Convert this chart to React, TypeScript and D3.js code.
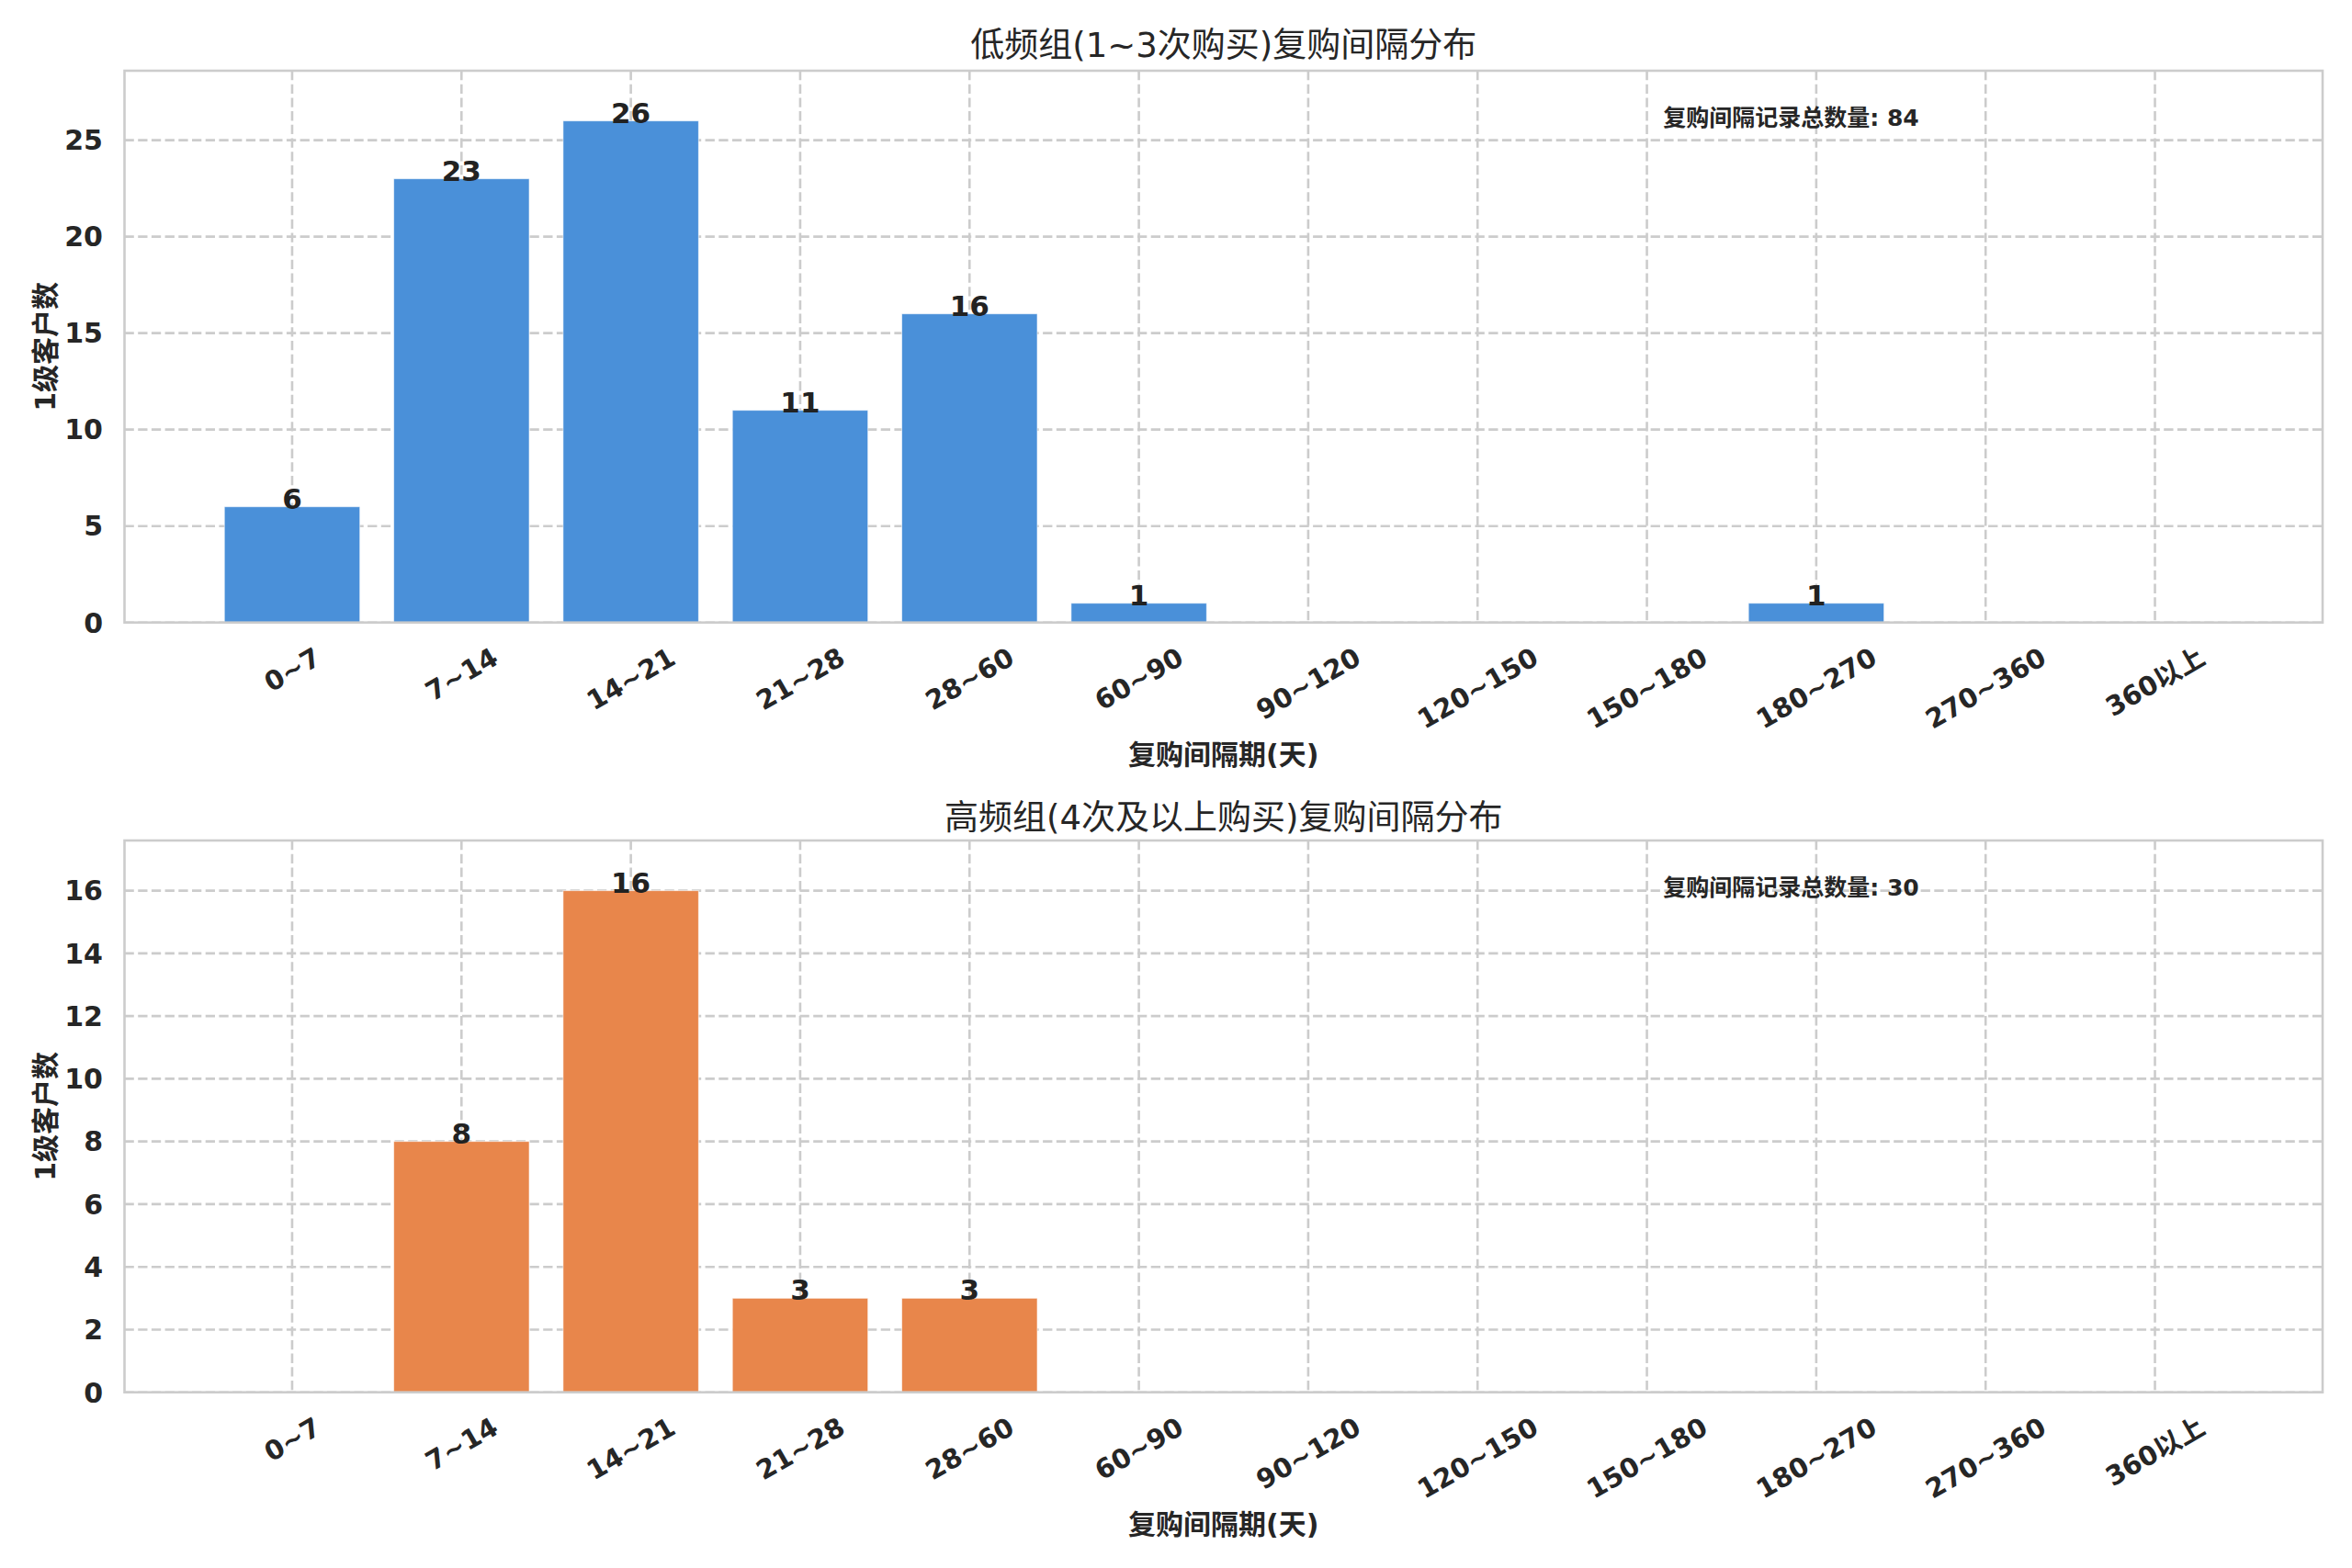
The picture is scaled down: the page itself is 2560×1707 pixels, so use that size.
import { useEffect, useRef } from 'react';
import * as d3 from 'd3';

const categories = ['0~7', '7~14', '14~21', '21~28', '28~60', '60~90', '90~120', '120~150', '150~180', '180~270', '270~360', '360以上'];
const lowFreqCounts = [6, 23, 26, 11, 16, 1, 0, 0, 0, 1, 0, 0];
const highFreqCounts = [0, 8, 16, 3, 3, 0, 0, 0, 0, 0, 0, 0];
const lowTicks = [0, 5, 10, 15, 20, 25];
const highTicks = [0, 2, 4, 6, 8, 10, 12, 14, 16];

const panels = [
  { title: '低频组(1~3次购买)复购间隔分布', values: lowFreqCounts, ticks: lowTicks, color: '#4a90d9', offset: 0 },
  { title: '高频组(4次及以上购买)复购间隔分布', values: highFreqCounts, ticks: highTicks, color: '#e8864b', offset: 838 },
];

const FONT = "'DejaVu Sans', 'Noto Sans CJK SC', sans-serif";
const TEXT = '#262626';
const GRID = '#cccccc';

export default function App() {
  const svgRef = useRef<SVGSVGElement>(null);

  useEffect(() => {
    document.body.style.margin = '0';
    if (!svgRef.current) return;

    const width = 2560;
    const height = 1707;
    const svg = d3.select(svgRef.current).attr('width', width).attr('height', height);
    svg.selectAll('*').remove();
    svg.append('rect').attr('width', width).attr('height', height).attr('fill', '#fff');

    const left = 135.5;
    const right = 2528;
    const top = 77;
    const bottom = 677.7;

    panels.forEach((p) => {
      const g = svg.append('g').attr('transform', `translate(0, ${p.offset})`);

      const x = d3.scaleBand().domain(categories).range([left, right]).paddingInner(0.2).paddingOuter(0.59);
      const maxV = d3.max(p.values) ?? 1;
      const y = d3.scaleLinear().domain([0, maxV * 1.1]).range([bottom, top]);

      // Grid
      g.selectAll('.ygrid')
        .data(p.ticks)
        .enter()
        .append('line')
        .attr('x1', left)
        .attr('x2', right)
        .attr('y1', (d) => y(d))
        .attr('y2', (d) => y(d))
        .attr('stroke', GRID)
        .attr('stroke-width', 2.6)
        .attr('stroke-dasharray', '10.3,4.4');

      g.selectAll('.xgrid')
        .data(categories)
        .enter()
        .append('line')
        .attr('x1', (d) => x(d)! + x.bandwidth() / 2)
        .attr('x2', (d) => x(d)! + x.bandwidth() / 2)
        .attr('y1', top)
        .attr('y2', bottom)
        .attr('stroke', GRID)
        .attr('stroke-width', 2.6)
        .attr('stroke-dasharray', '10.3,4.4');

      // Bars
      const rows = categories.map((c, i) => ({ cat: c, value: p.values[i] }));
      g.selectAll('.bar')
        .data(rows.filter((d) => d.value > 0))
        .enter()
        .append('rect')
        .attr('x', (d) => x(d.cat)!)
        .attr('y', (d) => y(d.value))
        .attr('width', x.bandwidth())
        .attr('height', (d) => y(0) - y(d.value))
        .attr('fill', p.color)
        .attr('stroke', '#ffffff')
        .attr('stroke-opacity', 0.6)
        .attr('stroke-width', 1);

      // Value labels
      g.selectAll('.value-label')
        .data(rows.filter((d) => d.value > 0))
        .enter()
        .append('text')
        .attr('x', (d) => x(d.cat)! + x.bandwidth() / 2)
        .attr('y', (d) => y(d.value) + 2)
        .attr('text-anchor', 'middle')
        .attr('font-family', FONT)
        .attr('font-size', 31)
        .attr('font-weight', 'bold')
        .attr('fill', '#222')
        .text((d) => d.value);

      // Spines
      g.append('rect')
        .attr('x', left)
        .attr('y', top)
        .attr('width', right - left)
        .attr('height', bottom - top)
        .attr('fill', 'none')
        .attr('stroke', GRID)
        .attr('stroke-width', 2.6);

      // Y tick labels
      g.selectAll('.ytick')
        .data(p.ticks)
        .enter()
        .append('text')
        .attr('x', 112)
        .attr('y', (d) => y(d))
        .attr('dy', '0.36em')
        .attr('text-anchor', 'end')
        .attr('font-family', FONT)
        .attr('font-size', 30)
        .attr('font-weight', 'bold')
        .attr('fill', TEXT)
        .text((d) => d);

      // X tick labels, rotated 30deg, centred under the tick
      const labelTop = 703;
      g.selectAll('.xtick')
        .data(categories)
        .enter()
        .append('text')
        .attr('text-anchor', 'middle')
        .attr('dy', '0.36em')
        .attr('font-family', FONT)
        .attr('font-size', 29)
        .attr('font-weight', 'bold')
        .attr('fill', TEXT)
        .text((d) => d)
        .each(function (d) {
          const el = this as SVGTextElement;
          const w = el.getComputedTextLength();
          const h = 22;
          const cx = x(d)! + x.bandwidth() / 2;
          const cy = labelTop + (w * 0.5 + h * 0.866) / 2;
          d3.select(el).attr('x', cx).attr('y', cy).attr('transform', `rotate(-30, ${cx}, ${cy})`);
        });

      // Axis labels
      g.append('text')
        .attr('x', (left + right) / 2)
        .attr('y', 832)
        .attr('text-anchor', 'middle')
        .attr('font-family', FONT)
        .attr('font-size', 30)
        .attr('font-weight', 'bold')
        .attr('fill', TEXT)
        .text('复购间隔期(天)');

      const yMid = (top + bottom) / 2;
      g.append('text')
        .attr('transform', `translate(49, ${yMid}) rotate(-90)`)
        .attr('dy', '0.36em')
        .attr('text-anchor', 'middle')
        .attr('font-family', FONT)
        .attr('font-size', 30)
        .attr('font-weight', 'bold')
        .attr('fill', TEXT)
        .text('1级客户数');

      // Title
      g.append('text')
        .attr('x', (left + right) / 2)
        .attr('y', p.offset === 0 ? 62 : 903 - p.offset)
        .attr('text-anchor', 'middle')
        .attr('font-family', FONT)
        .attr('font-size', 37)
        .attr('fill', TEXT)
        .text(p.title);

      // Total annotation
      g.append('text')
        .attr('x', left + (right - left) * 0.7)
        .attr('y', 137)
        .attr('font-family', FONT)
        .attr('font-size', 25)
        .attr('font-weight', 'bold')
        .attr('fill', TEXT)
        .text(`复购间隔记录总数量: ${d3.sum(p.values)}`);
    });
  }, []);

  return <svg ref={svgRef}></svg>;
}
